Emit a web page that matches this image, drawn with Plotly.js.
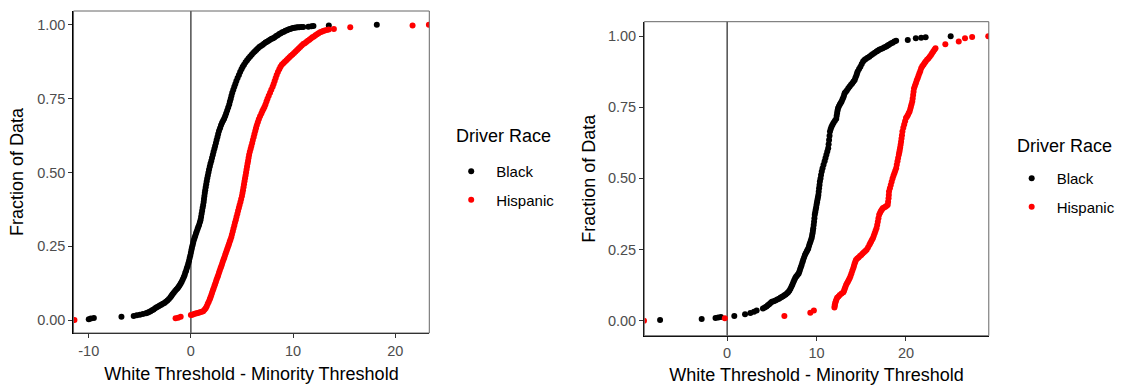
<!DOCTYPE html>
<html>
<head>
<meta charset="utf-8">
<script src="https://cdn.plot.ly/plotly-3.0.1.min.js"></script>
<style>html,body{margin:0;padding:0;background:#fff;}#chart{width:1121px;height:385px;}</style>
</head>
<body>
<div id="chart"></div>
<script>
// ---- Data (ECDF points) ----
const seriesNames = ["Black", "Hispanic"];
const legendTitle = "Driver Race";
const xTitle = "White Threshold - Minority Threshold";
const yTitle = "Fraction of Data";
const yTickVals = [0, 0.25, 0.5, 0.75, 1];
const yTickText = ["0.00", "0.25", "0.50", "0.75", "1.00"];
const leftXTicks = [-10, 0, 10, 20];
const rightXTicks = [0, 10, 20];

// Left panel, Black
const leftBlackX = [-10.0,-9.8,-9.5,-6.8,-5.6,-5.3,-5.0,-4.7,-4.4,-4.25,-4.1,-3.95,-3.8,-3.65,-3.5,-3.35,-3.2,-3.05,-2.9,-2.75,-2.6,-2.45,-2.3,-2.15,-2.0,-1.9,-1.8,-1.68,-1.55,-1.42,-1.3,-1.2,-1.1,-1.0,-0.9,-0.8,-0.7,-0.62,-0.55,-0.47,-0.4,-0.32,-0.25,-0.18,-0.12,-0.06,0.0,0.05,0.1,0.16,0.22,0.28,0.35,0.42,0.5,0.57,0.65,0.72,0.8,0.88,0.95,1.0,1.05,1.1,1.15,1.2,1.25,1.28,1.32,1.36,1.4,1.45,1.5,1.55,1.6,1.66,1.72,1.78,1.85,1.92,2.0,2.07,2.15,2.22,2.3,2.37,2.45,2.52,2.6,2.67,2.75,2.85,2.95,3.05,3.15,3.25,3.35,3.45,3.55,3.65,3.75,3.82,3.9,3.97,4.05,4.15,4.25,4.35,4.45,4.57,4.7,4.82,4.95,5.07,5.2,5.35,5.5,5.65,5.8,5.95,6.1,6.25,6.4,6.55,6.7,6.85,7.0,7.15,7.3,7.45,7.6,7.75,7.9,8.05,8.2,8.35,8.5,8.65,8.8,8.95,9.1,9.25,9.4,9.55,9.7,9.85,10.0,10.15,10.3,10.45,10.6,10.8,11.0,11.5,11.8,12.0,13.5,18.2];
const leftBlackY = [0.003,0.005,0.007,0.011,0.014,0.016,0.018,0.020,0.023,0.025,0.027,0.030,0.033,0.036,0.040,0.043,0.046,0.049,0.052,0.055,0.058,0.062,0.066,0.071,0.077,0.082,0.087,0.092,0.098,0.103,0.108,0.113,0.118,0.124,0.130,0.137,0.145,0.152,0.160,0.167,0.175,0.183,0.192,0.201,0.210,0.219,0.228,0.237,0.245,0.253,0.262,0.270,0.278,0.285,0.293,0.300,0.308,0.315,0.322,0.331,0.340,0.350,0.360,0.370,0.380,0.390,0.400,0.410,0.420,0.430,0.440,0.450,0.460,0.470,0.480,0.490,0.500,0.510,0.520,0.530,0.540,0.550,0.560,0.570,0.580,0.590,0.600,0.610,0.620,0.630,0.640,0.650,0.660,0.668,0.675,0.682,0.690,0.700,0.710,0.720,0.730,0.740,0.750,0.760,0.770,0.780,0.790,0.800,0.810,0.820,0.830,0.840,0.850,0.858,0.865,0.873,0.880,0.887,0.893,0.899,0.905,0.910,0.915,0.920,0.925,0.928,0.932,0.936,0.940,0.943,0.946,0.950,0.953,0.955,0.958,0.962,0.965,0.969,0.972,0.975,0.977,0.980,0.982,0.984,0.986,0.988,0.989,0.990,0.991,0.992,0.992,0.993,0.993,0.994,0.995,0.996,0.998,1.0];

// Left panel, Hispanic
const leftHispX = [-11.4,-1.5,-1.25,-1.0,0.0,0.15,0.3,0.45,0.6,0.75,0.9,1.05,1.2,1.33,1.45,1.55,1.65,1.75,1.85,1.92,2.0,2.07,2.15,2.22,2.3,2.37,2.45,2.52,2.6,2.67,2.75,2.82,2.9,2.97,3.05,3.12,3.2,3.27,3.35,3.42,3.5,3.57,3.65,3.72,3.8,3.87,3.95,4.02,4.1,4.17,4.25,4.32,4.4,4.47,4.55,4.62,4.7,4.77,4.85,4.92,5.0,5.05,5.1,5.15,5.2,5.25,5.3,5.35,5.4,5.45,5.5,5.55,5.6,5.65,5.7,5.77,5.85,5.92,6.0,6.07,6.15,6.22,6.3,6.37,6.45,6.55,6.65,6.77,6.9,7.0,7.1,7.2,7.3,7.4,7.5,7.62,7.75,7.87,8.0,8.1,8.2,8.3,8.4,8.52,8.65,8.77,8.9,9.05,9.2,9.35,9.5,9.65,9.8,9.95,10.1,10.25,10.4,10.55,10.7,10.85,11.0,11.15,11.3,11.45,11.6,11.75,11.9,12.05,12.2,12.35,12.5,12.65,12.8,12.95,13.1,13.3,13.5,14.0,15.6,21.7,23.3];
const leftHispY = [0.0,0.006,0.008,0.011,0.017,0.018,0.020,0.022,0.023,0.025,0.026,0.028,0.030,0.035,0.040,0.047,0.055,0.062,0.070,0.077,0.085,0.092,0.100,0.107,0.115,0.122,0.130,0.137,0.145,0.152,0.160,0.167,0.175,0.182,0.190,0.197,0.205,0.212,0.220,0.227,0.235,0.242,0.250,0.257,0.265,0.272,0.280,0.290,0.300,0.310,0.320,0.330,0.340,0.350,0.360,0.370,0.380,0.390,0.400,0.410,0.420,0.430,0.440,0.450,0.460,0.470,0.480,0.490,0.500,0.510,0.520,0.530,0.540,0.550,0.560,0.570,0.580,0.590,0.600,0.610,0.620,0.630,0.640,0.650,0.660,0.670,0.680,0.690,0.700,0.708,0.715,0.722,0.730,0.740,0.750,0.760,0.770,0.780,0.790,0.800,0.810,0.820,0.830,0.840,0.850,0.858,0.865,0.870,0.875,0.880,0.885,0.890,0.895,0.900,0.905,0.910,0.915,0.920,0.925,0.930,0.935,0.938,0.942,0.946,0.950,0.954,0.958,0.961,0.965,0.968,0.972,0.975,0.977,0.979,0.981,0.983,0.984,0.986,0.992,0.998,1.0];

// Right panel, Black
const rightBlackX = [-7.5,-2.85,-1.3,-1.0,-0.7,0.8,2.0,2.6,3.0,3.3,4.0,4.2,4.4,4.55,4.7,4.85,5.0,5.2,5.4,5.6,5.8,5.95,6.1,6.25,6.4,6.55,6.7,6.82,6.95,7.08,7.2,7.3,7.4,7.5,7.6,7.7,7.8,7.9,8.0,8.08,8.15,8.24,8.33,8.42,8.5,8.6,8.7,8.8,8.9,8.98,9.07,9.16,9.25,9.35,9.44,9.5,9.55,9.59,9.63,9.68,9.72,9.76,9.8,9.85,9.9,9.95,10.0,10.05,10.1,10.15,10.2,10.24,10.28,10.33,10.37,10.44,10.5,10.58,10.67,10.78,10.9,11.0,11.1,11.2,11.3,11.35,11.4,11.45,11.5,11.58,11.67,11.78,11.9,12.05,12.2,12.25,12.3,12.35,12.4,12.5,12.6,12.7,12.8,12.9,13.0,13.08,13.15,13.28,13.4,13.55,13.7,13.85,14.0,14.13,14.26,14.35,14.45,14.52,14.6,14.75,14.9,15.05,15.2,15.35,15.5,15.7,15.9,16.1,16.3,16.5,16.7,16.85,17.0,17.2,17.4,17.6,17.8,17.95,18.1,18.3,18.5,18.7,18.9,20.2,21.1,21.7,22.2,25.0];
const rightBlackY = [0.002,0.006,0.009,0.011,0.013,0.016,0.022,0.027,0.031,0.036,0.043,0.046,0.050,0.054,0.058,0.062,0.066,0.068,0.071,0.074,0.077,0.080,0.083,0.086,0.089,0.092,0.096,0.100,0.105,0.112,0.120,0.127,0.135,0.142,0.149,0.154,0.158,0.162,0.166,0.173,0.180,0.188,0.196,0.205,0.213,0.222,0.231,0.237,0.243,0.248,0.254,0.263,0.272,0.281,0.290,0.298,0.307,0.316,0.325,0.336,0.348,0.360,0.372,0.381,0.390,0.398,0.407,0.416,0.425,0.433,0.442,0.453,0.465,0.477,0.489,0.500,0.512,0.524,0.536,0.548,0.560,0.572,0.583,0.595,0.606,0.620,0.635,0.650,0.665,0.674,0.682,0.689,0.696,0.703,0.710,0.720,0.730,0.739,0.747,0.754,0.760,0.765,0.770,0.778,0.785,0.793,0.800,0.805,0.810,0.817,0.823,0.829,0.835,0.841,0.846,0.854,0.862,0.869,0.876,0.885,0.893,0.902,0.911,0.916,0.920,0.924,0.928,0.933,0.937,0.942,0.946,0.949,0.952,0.955,0.958,0.961,0.964,0.967,0.970,0.974,0.977,0.981,0.984,0.987,0.993,0.995,0.996,1.0];

// Right panel, Hispanic
const rightHispX = [-9.3,-0.26,6.4,9.3,9.7,12.0,12.03,12.05,12.1,12.15,12.22,12.3,12.45,12.6,12.8,13.0,13.08,13.15,13.22,13.3,13.4,13.5,13.6,13.7,13.8,13.9,14.0,14.1,14.18,14.25,14.33,14.4,14.55,14.7,14.85,15.0,15.15,15.3,15.45,15.6,15.75,15.9,16.0,16.1,16.2,16.3,16.4,16.5,16.6,16.7,16.78,16.85,16.92,17.0,17.1,17.2,17.3,17.4,17.55,17.7,17.85,17.96,18.0,18.05,18.08,18.1,18.2,18.3,18.4,18.5,18.6,18.7,18.8,18.9,18.97,19.05,19.12,19.2,19.25,19.3,19.35,19.4,19.45,19.5,19.55,19.6,19.7,19.8,19.9,20.0,20.1,20.2,20.3,20.4,20.48,20.55,20.62,20.7,20.75,20.8,20.85,20.9,21.0,21.1,21.2,21.3,21.4,21.5,21.6,21.7,21.82,21.95,22.08,22.2,22.35,22.5,22.65,22.8,22.92,23.05,23.18,23.3,24.4,25.9,26.6,27.4,29.2];
const rightHispY = [0.0,0.008,0.016,0.028,0.036,0.046,0.052,0.057,0.063,0.068,0.074,0.080,0.085,0.090,0.095,0.100,0.106,0.112,0.118,0.125,0.131,0.137,0.143,0.149,0.157,0.166,0.175,0.184,0.192,0.200,0.207,0.213,0.218,0.222,0.227,0.231,0.236,0.240,0.245,0.249,0.257,0.266,0.272,0.278,0.284,0.290,0.298,0.307,0.316,0.325,0.336,0.348,0.360,0.372,0.379,0.385,0.390,0.395,0.398,0.400,0.404,0.407,0.418,0.430,0.442,0.454,0.465,0.477,0.488,0.500,0.509,0.518,0.527,0.536,0.548,0.560,0.572,0.583,0.592,0.600,0.609,0.618,0.629,0.640,0.652,0.665,0.678,0.690,0.701,0.712,0.717,0.722,0.729,0.735,0.744,0.752,0.761,0.770,0.781,0.793,0.805,0.817,0.826,0.835,0.844,0.852,0.861,0.870,0.878,0.887,0.894,0.900,0.906,0.911,0.917,0.922,0.928,0.934,0.940,0.946,0.952,0.958,0.972,0.981,0.993,0.997,1.0];

const colors = {Black: "#000000", Hispanic: "#FF0000"};
const FONT = "Liberation Sans, Arial, sans-serif";
const MS = 6;

function pts(x, y, name, xa, ya, leg) {
  return {
    type: "scatter", mode: "markers", x: x, y: y, name: name,
    xaxis: xa, yaxis: ya, legend: leg, showlegend: true,
    legendgroup: leg + name,
    marker: {color: colors[name], size: MS, line: {width: 0}},
    hoverinfo: "x+y"
  };
}

const traces = [
  pts(leftBlackX, leftBlackY, seriesNames[0], "x", "y", "legend"),
  pts(leftHispX, leftHispY, seriesNames[1], "x", "y", "legend"),
  pts(rightBlackX, rightBlackY, seriesNames[0], "x2", "y2", "legend2"),
  pts(rightHispX, rightHispY, seriesNames[1], "x2", "y2", "legend2")
];

function xax(domain, range, ticks, anchor) {
  return {
    domain: domain, range: range, anchor: anchor, tickmode: "array", tickvals: ticks,
    ticktext: ticks.map(String),
    showgrid: false, zeroline: false, showline: true, linecolor: "#000", linewidth: 1.2,
    ticks: "outside", ticklen: 4, tickcolor: "#333", tickwidth: 1,
    tickfont: {family: FONT, size: 14.5, color: "#4d4d4d"},
    title: {text: xTitle, font: {family: FONT, size: 18, color: "#000"}, standoff: 9},
    automargin: false, fixedrange: true
  };
}
function yax(domain, range, anchor, standoff) {
  return {
    domain: domain, range: range, anchor: anchor, tickmode: "array",
    tickvals: yTickVals, ticktext: yTickText,
    showgrid: false, zeroline: false, showline: true, linecolor: "#000", linewidth: 1.2,
    ticks: "outside", ticklen: 4, tickcolor: "#333", tickwidth: 1,
    tickfont: {family: FONT, size: 14.5, color: "#4d4d4d"},
    title: {text: yTitle, font: {family: FONT, size: 18, color: "#000"}, standoff: standoff},
    automargin: false, fixedrange: true
  };
}

function legendCfg(x, y) {
  return {
    x: x, y: y, xanchor: "left", yanchor: "top",
    font: {family: FONT, size: 15, color: "#000"},
    bgcolor: "rgba(0,0,0,0)", borderwidth: 0,
    traceorder: "grouped", tracegroupgap: 6, itemsizing: "trace", itemwidth: 40
  };
}

function legendTitleAnn(x, y) {
  return {
    text: legendTitle, xref: "paper", yref: "paper", x: x, y: y,
    xanchor: "left", yanchor: "middle", showarrow: false,
    font: {family: FONT, size: 18, color: "#000"}
  };
}

const layout = {
  width: 1121, height: 385,
  margin: {l: 0, r: 0, t: 0, b: 0},
  paper_bgcolor: "#fff", plot_bgcolor: "#fff",
  font: {family: FONT},
  xaxis: xax([74/1121, 432/1121], [-11.49, 23.34], leftXTicks, "y"),
  yaxis: yax([1 - 333/385, 1 - 11/385], [-0.044, 1.047], "x", 9),
  xaxis2: xax([648.3/1121, 995/1121], [-9.27, 29.26], rightXTicks, "y2"),
  yaxis2: yax([1 - 335.7/385, 1 - 21.7/385], [-0.053, 1.051], "x2", 7),
  legend: legendCfg(449/1121, 1 - 155/385),
  legend2: legendCfg(1013/1121, 1 - 162/385),
  annotations: [
    legendTitleAnn(457/1121, 1 - 136.5/385),
    legendTitleAnn(1021/1121, 1 - 145.5/385)
  ],
  shapes: [
    {type: "line", xref: "x", yref: "y domain", x0: 0, x1: 0, y0: 0, y1: 1, line: {color: "#222", width: 1.2}, layer: "below"},
    {type: "line", xref: "x2", yref: "y2 domain", x0: 0, x1: 0, y0: 0, y1: 1, line: {color: "#222", width: 1.2}, layer: "below"},
    {type: "rect", xref: "x domain", yref: "y domain", x0: 0, x1: 1, y0: 0, y1: 1, line: {color: "#666", width: 1}, layer: "above"},
    {type: "rect", xref: "x2 domain", yref: "y2 domain", x0: 0, x1: 1, y0: 0, y1: 1, line: {color: "#666", width: 1}, layer: "above"}
  ],
  hovermode: "closest"
};

Plotly.newPlot("chart", traces, layout, {displayModeBar: false, staticPlot: true});
</script>
</body>
</html>
